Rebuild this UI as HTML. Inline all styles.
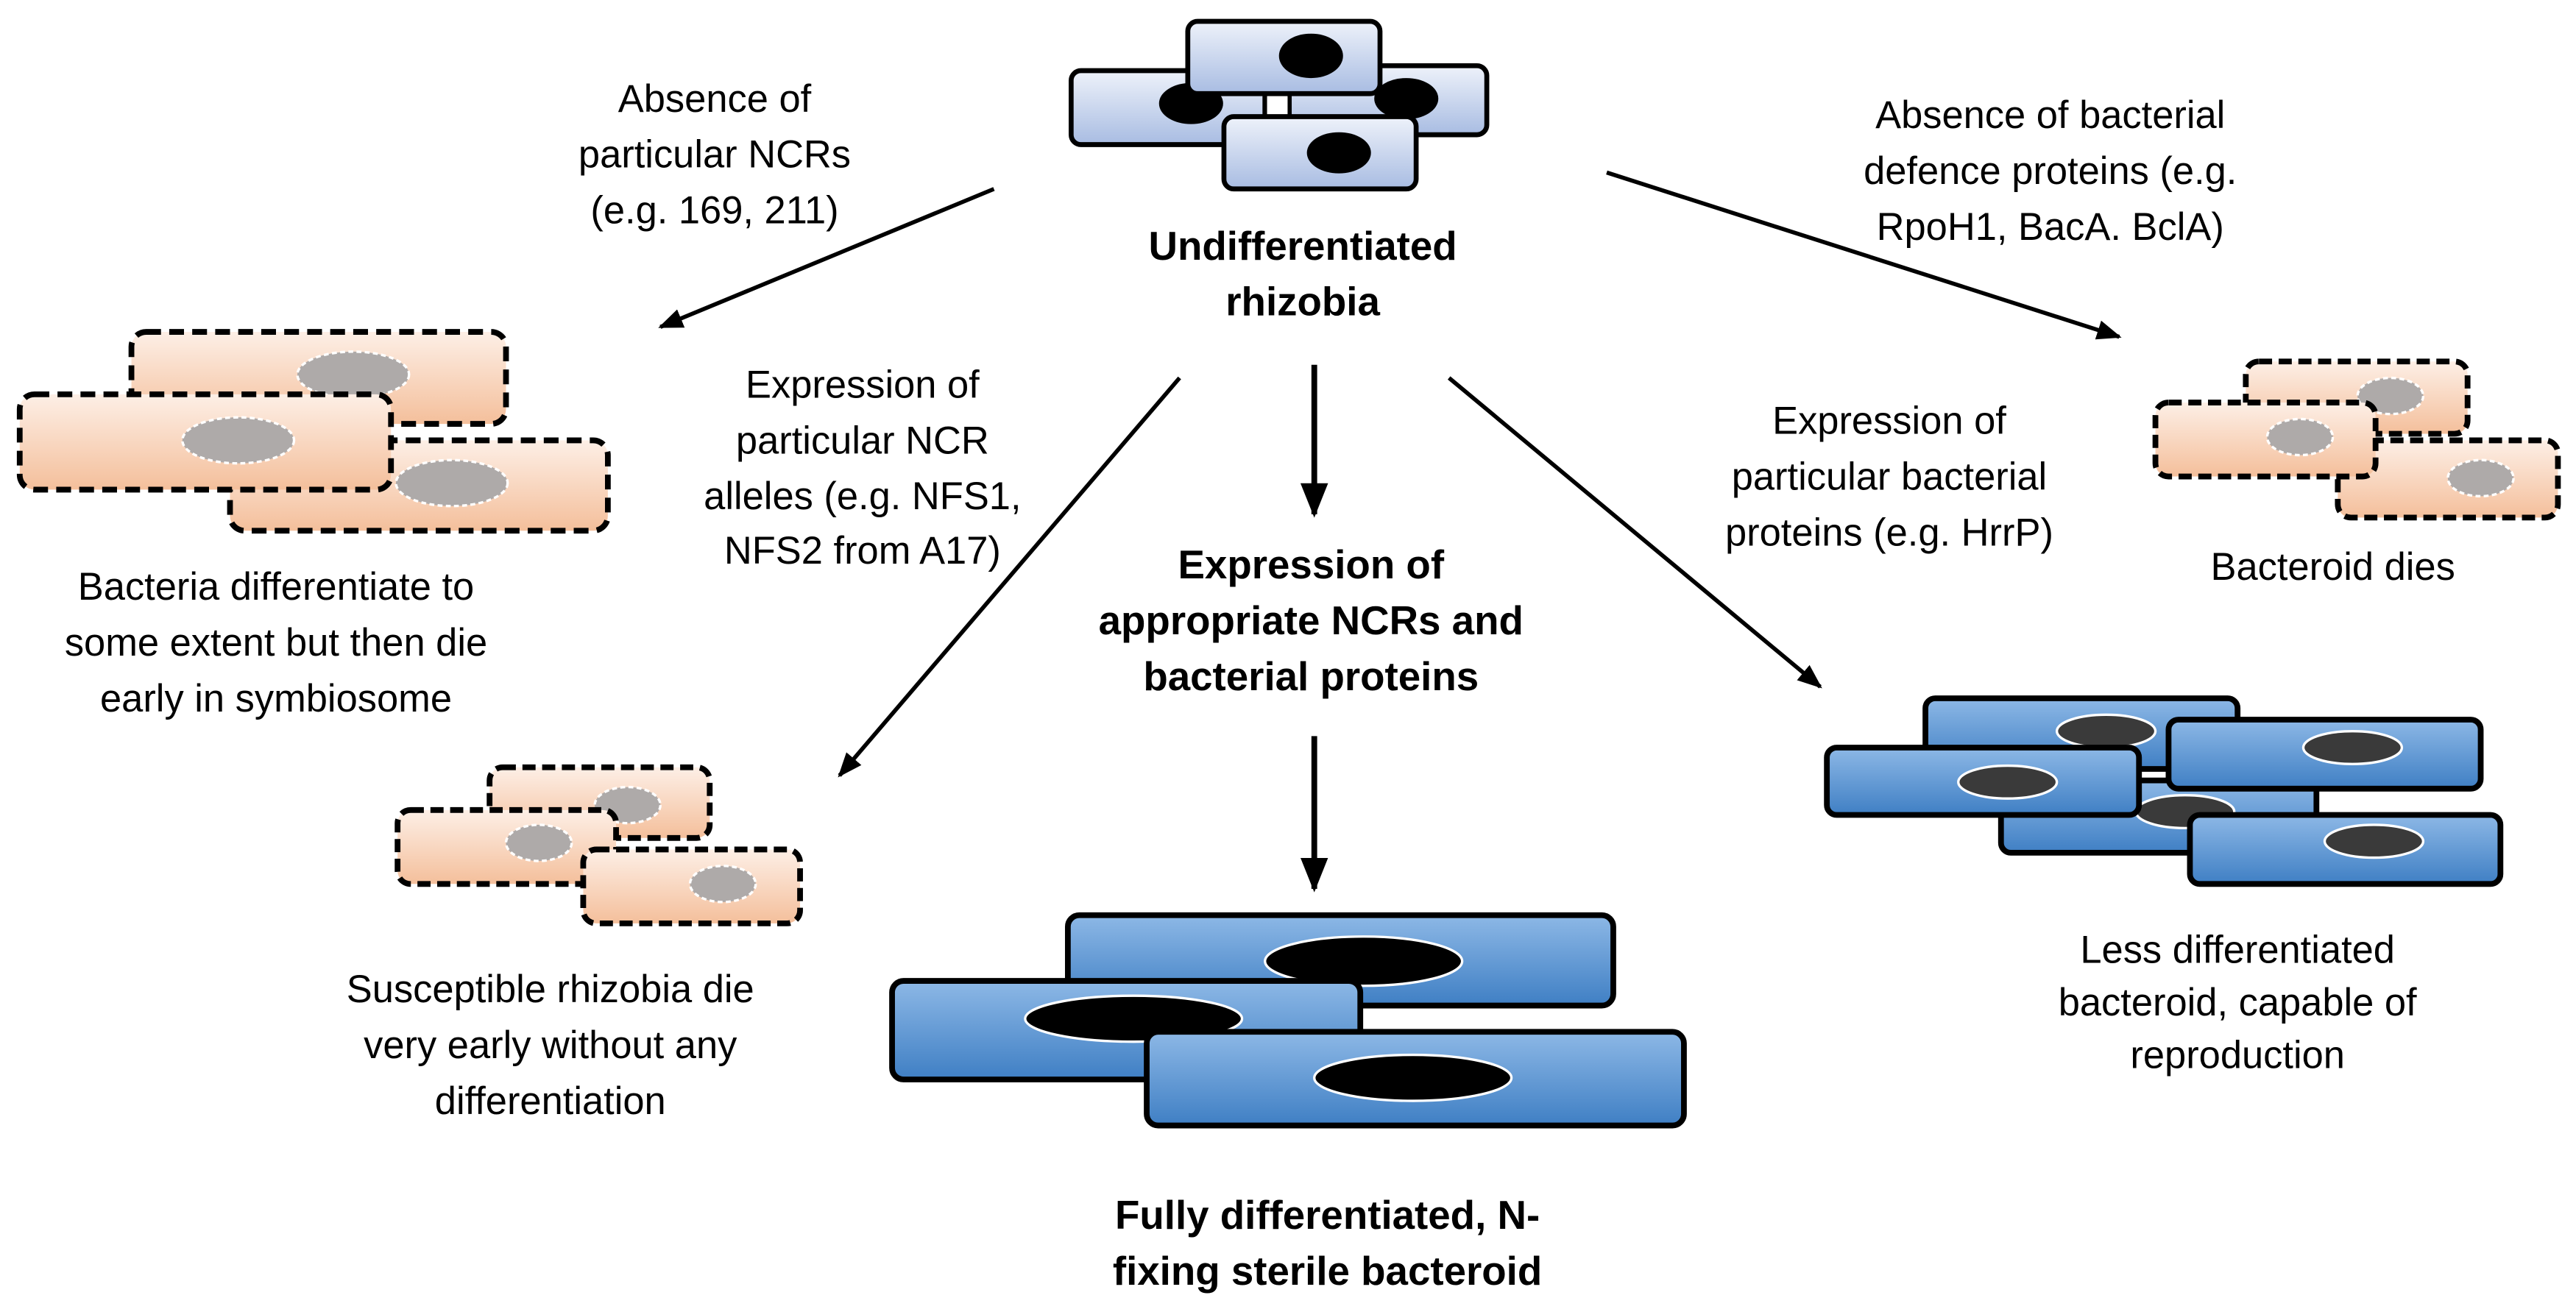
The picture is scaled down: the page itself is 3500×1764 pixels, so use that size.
<!DOCTYPE html>
<html><head><meta charset="utf-8"><style>html,body{margin:0;padding:0;background:#fff}svg{display:block}</style></head>
<body>
<svg width="3500" height="1764" viewBox="0 0 1568 790" preserveAspectRatio="none" xmlns="http://www.w3.org/2000/svg">
<defs>
<linearGradient id="lb" x1="0" y1="0" x2="0" y2="1"><stop offset="0" stop-color="#eef2fa"/><stop offset="1" stop-color="#a8bce2"/></linearGradient>
<linearGradient id="or" x1="0" y1="0" x2="0" y2="1"><stop offset="0" stop-color="#fdefe6"/><stop offset="1" stop-color="#f4bf9b"/></linearGradient>
<linearGradient id="bl" x1="0" y1="0" x2="0" y2="1"><stop offset="0" stop-color="#8db8e6"/><stop offset="1" stop-color="#3f7fc4"/></linearGradient>
<marker id="ah" viewBox="0 0 10 10" refX="9" refY="5" markerWidth="6" markerHeight="6" orient="auto" markerUnits="strokeWidth"><path d="M0,1 L10,5 L0,9 z" fill="#000"/></marker>
</defs>
<g font-family="Liberation Sans, sans-serif" font-size="23.5" text-anchor="middle" fill="#000">

<g stroke="#000" stroke-width="3">
<rect x="652" y="43" width="118" height="45" rx="6" fill="url(#lb)"/>
<rect x="770" y="40" width="135" height="42" rx="6" fill="url(#lb)"/>
<ellipse cx="725" cy="63" rx="18" ry="11" fill="#000"/>
<ellipse cx="856" cy="60" rx="18" ry="11" fill="#000"/>
<rect x="770" y="56" width="15" height="16" fill="#fff" stroke-width="2.5"/>
<rect x="723" y="13" width="117" height="44" rx="6" fill="url(#lb)"/>
<ellipse cx="798" cy="34" rx="18" ry="12" fill="#000"/>
<rect x="745" y="71" width="117" height="44" rx="6" fill="url(#lb)"/>
<ellipse cx="815" cy="93" rx="18" ry="11" fill="#000"/>
</g>
<g font-weight="bold" font-size="24.5">
<text x="793" y="158">Undifferentiated</text>
<text x="793" y="192">rhizobia</text>
</g>

<text x="435" y="68">Absence of</text>
<text x="435" y="102">particular NCRs</text>
<text x="435" y="136">(e.g. 169, 211)</text>
<line x1="605" y1="115" x2="402" y2="199" stroke="#000" stroke-width="2.5" marker-end="url(#ah)"/>

<g stroke="#000" stroke-width="3.5" stroke-dasharray="9,5">
<rect x="80" y="202" width="228" height="56" rx="9" fill="url(#or)"/>
<ellipse cx="215" cy="228" rx="34" ry="14" fill="#aeaaa9" stroke="#fff" stroke-width="1.5" stroke-dasharray="3,2"/>
<rect x="140" y="268" width="230" height="55" rx="9" fill="url(#or)"/>
<ellipse cx="275" cy="294" rx="34" ry="14" fill="#aeaaa9" stroke="#fff" stroke-width="1.5" stroke-dasharray="3,2"/>
<rect x="12" y="240" width="226" height="58" rx="9" fill="url(#or)"/>
<ellipse cx="145" cy="268" rx="34" ry="14" fill="#aeaaa9" stroke="#fff" stroke-width="1.5" stroke-dasharray="3,2"/>
</g>
<text x="168" y="365">Bacteria differentiate to</text>
<text x="168" y="399">some extent but then die</text>
<text x="168" y="433">early in symbiosome</text>

<text x="525" y="242">Expression of</text>
<text x="525" y="276">particular NCR</text>
<text x="525" y="310">alleles (e.g. NFS1,</text>
<text x="525" y="343">NFS2 from A17)</text>
<line x1="718" y1="230" x2="511" y2="472" stroke="#000" stroke-width="2.5" marker-end="url(#ah)"/>

<g stroke="#000" stroke-width="3.5" stroke-dasharray="8,4">
<rect x="298" y="467" width="134" height="43" rx="8" fill="url(#or)"/>
<ellipse cx="382" cy="490" rx="20" ry="11" fill="#aeaaa9" stroke="#fff" stroke-width="1.5" stroke-dasharray="3,2"/>
<rect x="242" y="493" width="133" height="45" rx="8" fill="url(#or)"/>
<ellipse cx="328" cy="513" rx="20" ry="11" fill="#aeaaa9" stroke="#fff" stroke-width="1.5" stroke-dasharray="3,2"/>
<rect x="355" y="517" width="132" height="45" rx="8" fill="url(#or)"/>
<ellipse cx="440" cy="538" rx="20" ry="11" fill="#aeaaa9" stroke="#fff" stroke-width="1.5" stroke-dasharray="3,2"/>
</g>
<text x="335" y="610">Susceptible rhizobia die</text>
<text x="335" y="644">very early without any</text>
<text x="335" y="678">differentiation</text>

<line x1="800" y1="222" x2="800" y2="313" stroke="#000" stroke-width="3.5" marker-end="url(#ah)"/>
<g font-weight="bold" font-size="24.5">
<text x="798" y="352">Expression of</text>
<text x="798" y="386">appropriate NCRs and</text>
<text x="798" y="420">bacterial proteins</text>
</g>
<line x1="800" y1="448" x2="800" y2="541" stroke="#000" stroke-width="3.5" marker-end="url(#ah)"/>

<g stroke="#000" stroke-width="3.5">
<rect x="650" y="557" width="332" height="55" rx="7" fill="url(#bl)"/>
<ellipse cx="830" cy="585" rx="60" ry="15" fill="#000" stroke="#fff" stroke-width="1.5"/>
<rect x="543" y="597" width="285" height="60" rx="7" fill="url(#bl)"/>
<ellipse cx="690" cy="620" rx="66" ry="14" fill="#000" stroke="#fff" stroke-width="1.5"/>
<rect x="698" y="628" width="327" height="57" rx="7" fill="url(#bl)"/>
<ellipse cx="860" cy="656" rx="60" ry="14" fill="#000" stroke="#fff" stroke-width="1.5"/>
</g>
<g font-weight="bold" font-size="24.5">
<text x="808" y="748">Fully differentiated, N-</text>
<text x="808" y="782">fixing sterile bacteroid</text>
</g>

<text x="1248" y="78">Absence of bacterial</text>
<text x="1248" y="112">defence proteins (e.g.</text>
<text x="1248" y="146">RpoH1, BacA. BclA)</text>
<line x1="978" y1="105" x2="1290" y2="205" stroke="#000" stroke-width="2.5" marker-end="url(#ah)"/>

<g stroke="#000" stroke-width="3.5" stroke-dasharray="8,4">
<rect x="1367" y="220" width="135" height="44" rx="8" fill="url(#or)"/>
<ellipse cx="1455" cy="241" rx="20" ry="11" fill="#aeaaa9" stroke="#fff" stroke-width="1.5" stroke-dasharray="3,2"/>
<rect x="1423" y="268" width="134" height="47" rx="8" fill="url(#or)"/>
<ellipse cx="1510" cy="291" rx="20" ry="11" fill="#aeaaa9" stroke="#fff" stroke-width="1.5" stroke-dasharray="3,2"/>
<rect x="1312" y="245" width="134" height="45" rx="8" fill="url(#or)"/>
<ellipse cx="1400" cy="266" rx="20" ry="11" fill="#aeaaa9" stroke="#fff" stroke-width="1.5" stroke-dasharray="3,2"/>
</g>
<text x="1420" y="353">Bacteroid dies</text>

<text x="1150" y="264">Expression of</text>
<text x="1150" y="298">particular bacterial</text>
<text x="1150" y="332">proteins (e.g. HrrP)</text>
<line x1="882" y1="230" x2="1108" y2="418" stroke="#000" stroke-width="2.5" marker-end="url(#ah)"/>

<g stroke="#000" stroke-width="3.5">
<rect x="1172" y="425" width="190" height="43" rx="6" fill="url(#bl)"/>
<ellipse cx="1282" cy="445" rx="30" ry="10" fill="#3a3a3a" stroke="#fff" stroke-width="1.5"/>
<rect x="1218" y="475" width="192" height="44" rx="6" fill="url(#bl)"/>
<ellipse cx="1330" cy="494" rx="30" ry="10" fill="#3a3a3a" stroke="#fff" stroke-width="1.5"/>
<rect x="1112" y="455" width="190" height="41" rx="6" fill="url(#bl)"/>
<ellipse cx="1222" cy="476" rx="30" ry="10" fill="#3a3a3a" stroke="#fff" stroke-width="1.5"/>
<rect x="1320" y="438" width="190" height="42" rx="6" fill="url(#bl)"/>
<ellipse cx="1432" cy="455" rx="30" ry="10" fill="#3a3a3a" stroke="#fff" stroke-width="1.5"/>
<rect x="1333" y="496" width="189" height="42" rx="6" fill="url(#bl)"/>
<ellipse cx="1445" cy="512" rx="30" ry="10" fill="#3a3a3a" stroke="#fff" stroke-width="1.5"/>
</g>
<text x="1362" y="586">Less differentiated</text>
<text x="1362" y="618">bacteroid, capable of</text>
<text x="1362" y="650">reproduction</text>
</g>
</svg>
</body></html>
